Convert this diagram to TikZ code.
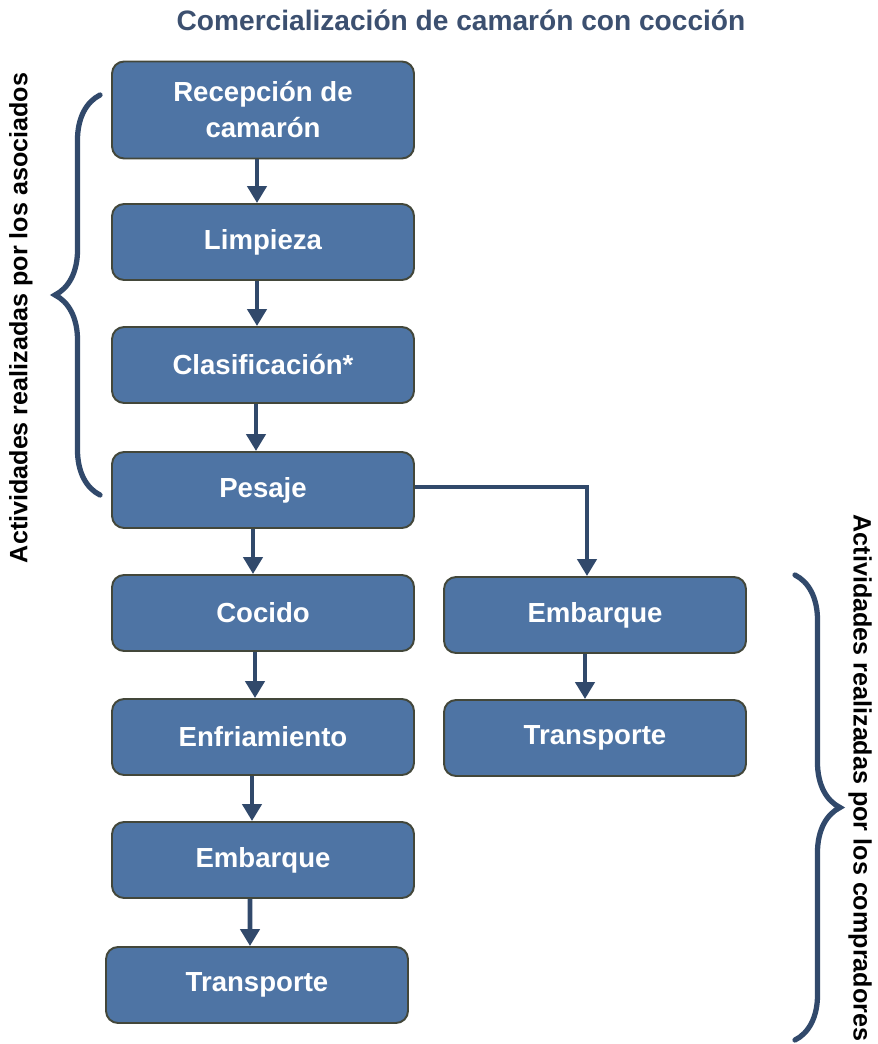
\documentclass[tikz,border=0pt]{standalone}
\usepackage{fontspec}
\setmainfont{Liberation Sans}
\usetikzlibrary{arrows.meta,decorations.pathreplacing}
\definecolor{cajaazul}{HTML}{4E74A4}
\definecolor{bordecaja}{HTML}{43473A}
\definecolor{flechaazul}{HTML}{31496B}
\definecolor{tituloazul}{HTML}{3C5070}
\tikzset{
  caja/.style={draw=bordecaja, line width=1.1pt, fill=cajaazul, rounded corners=0.24cm,
    minimum width=6.04cm, minimum height=1.52cm, text=white, align=center,
    font=\bfseries\fontsize{15.7}{20.5}\selectfont},
  flecha/.style={draw=flechaazul, line width=2.8pt, -{Triangle[width=0.38cm,length=0.34cm]}},
  llave/.style={draw=flechaazul, line width=3pt, line cap=round,
    decorate, decoration={brace, amplitude=0.9cm}},
  lateral/.style={font=\bfseries\fontsize{14.3}{16}\selectfont, text=black}
}
\begin{document}
\begin{tikzpicture}[x=0.02cm, y=-0.02cm]
  %%%%% START %%%%%
  \useasboundingbox (0,0) rectangle (878,1044);

  \node[font=\bfseries\fontsize{16}{19}\selectfont, text=tituloazul] (titulo) at (461,20) {Comercialización de camarón con cocción};

  % columna izquierda
  \node[caja, minimum height=1.94cm] (recepcion) at (263,110) {Recepción de\\camarón};
  \node[caja] (limpieza) at (263,242) {Limpieza};
  \node[caja] (clasificacion) at (263,365) {Clasificación*};
  \node[caja] (pesaje) at (263,490) {Pesaje};
  \node[caja] (cocido) at (263,613) {Cocido};
  \node[caja] (enfriamiento) at (263,737) {Enfriamiento};
  \node[caja] (embarqueA) at (263,860) {Embarque};
  \node[caja] (transporteA) at (257,985) {Transporte};

  % columna derecha
  \node[caja] (embarqueB) at (595,615) {Embarque};
  \node[caja] (transporteB) at (595,738) {Transporte};

  \draw[flecha] ([xshift=-0.12cm]recepcion.south) -- ([xshift=-0.12cm]limpieza.north);
  \draw[flecha] ([xshift=-0.12cm]limpieza.south) -- ([xshift=-0.12cm]clasificacion.north);
  \draw[flecha] ([xshift=-0.14cm]clasificacion.south) -- ([xshift=-0.14cm]pesaje.north);
  \draw[flecha] ([xshift=-0.2cm]pesaje.south) -- ([xshift=-0.2cm]cocido.north);
  \draw[flecha] ([xshift=-0.16cm]cocido.south) -- ([xshift=-0.16cm]enfriamiento.north);
  \draw[flecha] ([xshift=-0.22cm]enfriamiento.south) -- ([xshift=-0.22cm]embarqueA.north);
  \draw[flecha] ([xshift=-0.26cm]embarqueA.south) -- ([xshift=-0.14cm]transporteA.north);
  \draw[flecha] ([yshift=0.06cm]pesaje.east) -| ([xshift=-0.16cm]embarqueB.north);
  \draw[flecha] ([xshift=-0.2cm]embarqueB.south) -- ([xshift=-0.2cm]transporteB.north);

  % llaves
  \coordinate (llaveAabajo) at (100,495);
  \coordinate (llaveAarriba) at (100,95);
  \draw[llave] (llaveAabajo) -- (llaveAarriba);
  \node[lateral, rotate=90] (asociados) at (21,318) {Actividades realizadas por los asociados};

  \coordinate (llaveBarriba) at (795,575);
  \coordinate (llaveBabajo) at (795,1040);
  \draw[llave] (llaveBarriba) -- (llaveBabajo);
  \node[lateral, rotate=-90] (compradores) at (860,778) {Actividades realizadas por los compradores};
  %%%%% END %%%%%
\end{tikzpicture}
\end{document}
